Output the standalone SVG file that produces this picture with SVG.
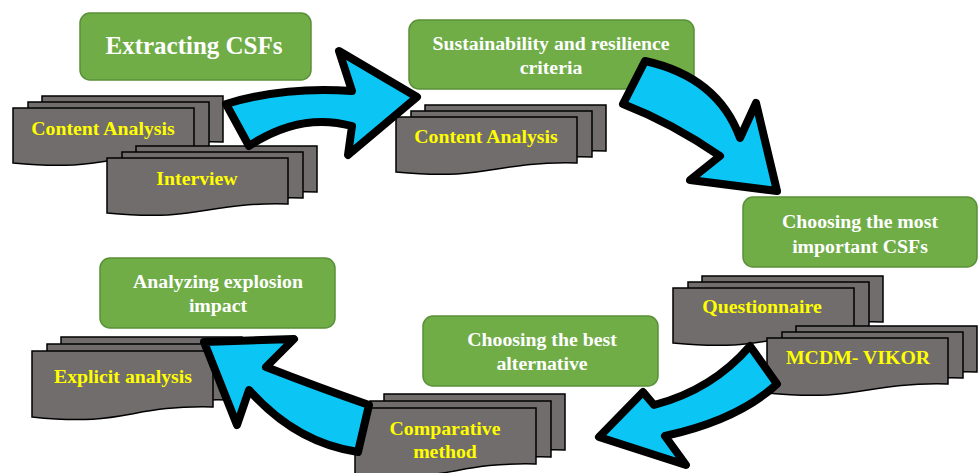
<svg xmlns="http://www.w3.org/2000/svg" xmlns:xlink="http://www.w3.org/1999/xlink" width="978" height="473" viewBox="0 0 978 473">
<style>
.box{fill:#70AD47;stroke:#5A9038;stroke-width:1.5}
.bt{font-family:"Liberation Serif","Times New Roman",serif;font-weight:bold;font-size:19.8px;fill:#FFFFFF;text-anchor:middle}
.pg{fill:#716D6D;stroke:#000;stroke-width:1.5}
.yt{font-family:"Liberation Serif","Times New Roman",serif;font-weight:bold;font-size:19.8px;fill:#FFFF00;text-anchor:middle}
.arr{fill:#0BC6F4;stroke:#000;stroke-width:8;stroke-linejoin:round}
</style>
<defs>
<path id="pg" d="M0,0 H181 V46 C95,44 95,64 0,55 Z"/>
<path id="pgT" d="M0,0 H181 V56 C95,54 95,76 0,66 Z"/>
</defs>
<rect width="978" height="473" fill="#FFFFFF"/>

<g id="n-extracting">
<rect class="box" x="80" y="13" width="231" height="67" rx="10"/>
<text class="bt" x="194" y="54" style="font-size:25px">Extracting CSFs</text>
</g>
<g id="n-sustainability">
<rect class="box" x="409" y="20" width="285" height="69" rx="10"/>
<text class="bt" x="551" y="50">Sustainability and resilience</text>
<text class="bt" x="551" y="74">criteria</text>
</g>
<g id="n-choosing-most">
<rect class="box" x="743" y="197" width="234" height="70" rx="10"/>
<text class="bt" x="860" y="228">Choosing the most</text>
<text class="bt" x="860" y="253">important CSFs</text>
</g>
<g id="n-choosing-best">
<rect class="box" x="423" y="316" width="235" height="70" rx="10"/>
<text class="bt" x="542" y="346">Choosing the best</text>
<text class="bt" x="542" y="370">alternative</text>
</g>
<g id="n-analyzing">
<rect class="box" x="100" y="258" width="235" height="70" rx="10"/>
<text class="bt" x="218" y="288">Analyzing explosion</text>
<text class="bt" x="218" y="312">impact</text>
</g>

<g id="d-content1">
<use href="#pg" class="pg" x="42" y="96"/>
<use href="#pg" class="pg" x="28" y="102"/>
<use href="#pg" class="pg" x="13" y="108"/>
<text class="yt" x="103" y="135">Content Analysis</text>
</g>
<g id="d-interview">
<use href="#pg" class="pg" x="136" y="146"/>
<use href="#pg" class="pg" x="122" y="152"/>
<use href="#pg" class="pg" x="107" y="158"/>
<text class="yt" x="197" y="185">Interview</text>
</g>
<g id="d-content2">
<use href="#pg" class="pg" x="425" y="105"/>
<use href="#pg" class="pg" x="411" y="111"/>
<use href="#pg" class="pg" x="396" y="117"/>
<text class="yt" x="486" y="143">Content Analysis</text>
</g>
<g id="d-questionnaire">
<use href="#pg" class="pg" x="702" y="276"/>
<use href="#pg" class="pg" x="688" y="282"/>
<use href="#pg" class="pg" x="673" y="288"/>
<text class="yt" x="762" y="313">Questionnaire</text>
</g>
<g id="d-mcdm">
<use href="#pg" class="pg" x="796" y="326"/>
<use href="#pg" class="pg" x="782" y="332"/>
<use href="#pg" class="pg" x="767" y="338"/>
<text class="yt" x="858" y="364">MCDM- VIKOR</text>
</g>
<g id="d-comparative">
<use href="#pgT" class="pg" x="384" y="394"/>
<use href="#pgT" class="pg" x="370" y="401"/>
<use href="#pgT" class="pg" x="355" y="408"/>
<text class="yt" x="445" y="435">Comparative</text>
<text class="yt" x="445" y="458">method</text>
</g>
<g id="d-explicit">
<use href="#pgT" class="pg" x="61" y="337"/>
<use href="#pgT" class="pg" x="47" y="344"/>
<use href="#pgT" class="pg" x="32" y="351"/>
<text class="yt" x="123" y="383">Explicit analysis</text>
</g>

<g id="connectors">
<path class="arr" d="M226,104 Q285,86 352,91 L339,51 L417,97 L348,155 L352,126 Q300,112 249,146 Z"/>
<path class="arr" d="M645,61 Q718,77 740,138 L756,103 L777,191 L690,180 L720,156 Q672,123 623,104 Z"/>
<path class="arr" d="M750,346 Q712,390 654,405 L643,392 L599,437 L686,465 L665,436 Q738,420 777,384 Z"/>
<path class="arr" d="M369,405 Q320,388 266,367 L294,339 L204,342 L237,425 L249,390 Q296,443 358,452 Z"/>
</g>
</svg>
